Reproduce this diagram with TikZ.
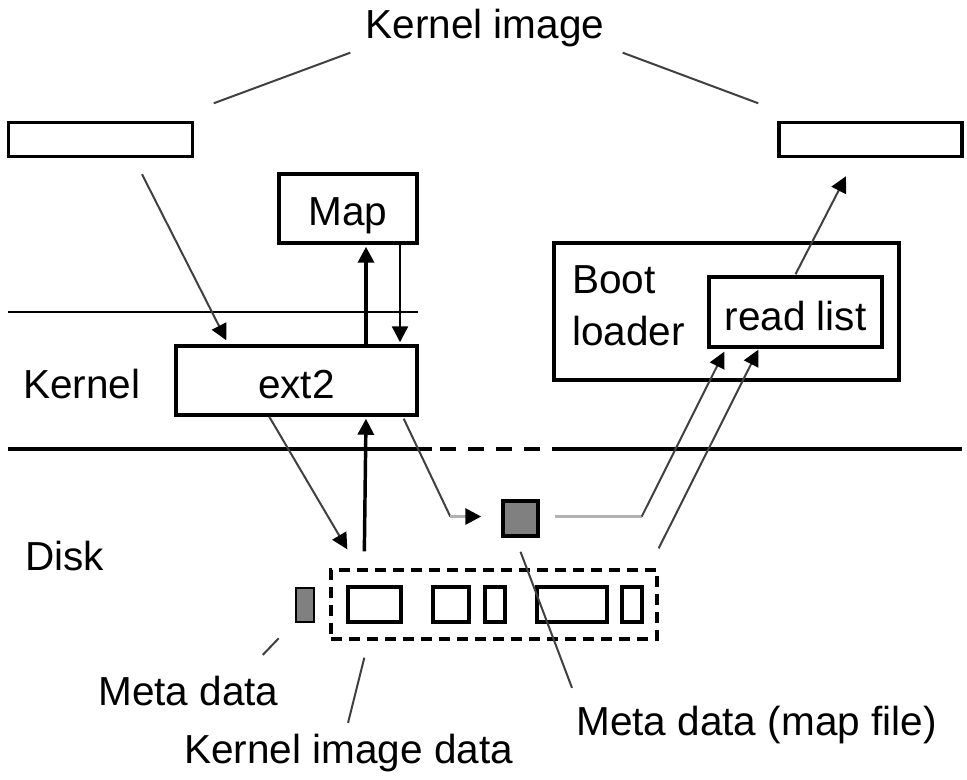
\documentclass[tikz,border=0pt]{standalone}
\usepackage{fontspec}
\setmainfont{Liberation Sans}
\usetikzlibrary{arrows.meta,calc}
\begin{document}
\begin{tikzpicture}[x=0.75pt,y=-0.75pt,
  every node/.style={font=\fontsize{30.4}{36}\selectfont},
  box/.style={draw,line width=2.6pt,inner sep=0pt,fill=white},
  lbl/.style={inner sep=0pt},
  graybox/.style={box,fill=black!50},
  tip/.style={-{Triangle[length=12pt,width=12pt,color=black]}},
  thinln/.style={draw=black!75,line width=1.5pt},
  thinarr/.style={thinln,tip},
  thickarr/.style={draw=black,line width=2.6pt,tip},
  downarr/.style={draw=black,line width=1.7pt,tip},
  grayln/.style={draw=black!30,line width=2.3pt},
  layer/.style={draw=black,line width=1.8pt},
  layerb/.style={draw=black,line width=2.6pt}
]
\useasboundingbox (0,0) rectangle (967,779);

% boxes
\node[box,minimum width=138pt,minimum height=25.5pt] (kimgL) at (100.5,139.5) {};
\node[box,minimum width=137.25pt,minimum height=25.5pt] (kimgR) at (870.5,139.5) {};
\node[box,minimum width=103.5pt,minimum height=51.75pt,text height=24.75pt,text depth=0pt] (map) at (348,208.5) {Map};
\node[box,minimum width=180.75pt,minimum height=51.75pt,text height=26.25pt,text depth=0pt] (ext2) at (296.5,380.5) {ext2};
\node[box,minimum width=258.75pt,minimum height=102.75pt] (boot) at (726.5,311.5) {};
\node[lbl,anchor=base west] (bootA) at (572,293) {Boot};
\node[lbl,anchor=base west] (bootB) at (572,345) {loader};
\node[box,minimum width=129.75pt,minimum height=52.5pt,text height=27pt,text depth=0pt] (readlist) at (795.5,312) {read list};

\node[graybox,minimum width=26.25pt,minimum height=26.25pt] (metasq) at (520.5,518.5) {};
\node[graybox,line width=2pt,minimum width=13.5pt,minimum height=25.5pt] (metasmall) at (305,605) {};
\node[draw,line width=2.5pt,dash pattern=on 8.5pt off 5pt,inner sep=0pt,minimum width=244.5pt,minimum height=51.75pt] (dbox) at (494,604.5) {};
\node[box,minimum width=39.75pt,minimum height=26.25pt] (r1) at (374.5,604.5) {};
\node[box,minimum width=27pt,minimum height=26.25pt] (r2) at (451,604.5) {};
\node[box,minimum width=15pt,minimum height=26.25pt] (r3) at (495,604.5) {};
\node[box,minimum width=52.5pt,minimum height=26.25pt] (r4) at (572,604.5) {};
\node[box,minimum width=15pt,minimum height=26.25pt] (r5) at (632,604.5) {};

% texts
\node[lbl,anchor=base] (kimg) at (485,38) {Kernel image};
\node[lbl,anchor=base west] (kernel) at (23,398) {Kernel};
\node[lbl,anchor=base west] (disk) at (25,570) {Disk};
\node[lbl,anchor=base west] (mdlabel) at (98,705) {Meta data};
\node[lbl,anchor=base west] (kidlabel) at (184,763) {Kernel image data};
\node[lbl,anchor=base west] (mflabel) at (576,735) {Meta data (map file)};

% layer lines
\draw[layer] (8,312) -- (418,312);
\draw[layerb] (8,449) -- (432,449);
\draw[layerb,dash pattern=on 12pt off 9pt] (440,449) -- (553,449);
\draw[layerb] (553,449) -- (962,449);

% label lines
\draw[thinln] ($(kimg.south west)+(-15,6)$) -- ($(kimgL.north east)+(19.5,-17.5)$);
\draw[thinln] ($(kimg.south east)+(18,6)$) -- ($(kimgR.north west)+(-19,-17.5)$);
\draw[thinln] ($(metasmall.south west)+(-16,15)$) -- ($(mdlabel.north east)+(-16,-20.5)$);
\draw[thinln] ($(dbox.south west)+(35,17)$) -- ($(kidlabel.north west)+(164,-10.5)$);
\draw[thinln] ($(metasq.south)+(0,14)$) -- ($(mflabel.north west)+(-4,-17.5)$);

% connectors
\draw[thinarr] ($(kimgL.south)+(41.5,16)$) -- ($(ext2.north west)+(52,-4)$);
\draw[thickarr] ($(ext2.north)+(69.5,0)$) -- ($(map.south)+(18,2)$);
\draw[downarr] ($(map.south)+(52,0)$) -- ($(ext2.north)+(103.5,-2)$);
\draw[thinarr] ($(ext2.south west)+(95,0)$) -- ($(dbox.north west)+(18,-19)$);
\draw[thickarr] ($(dbox.north west)+(35,-17)$) -- ($(ext2.south)+(69.5,2)$);

\coordinate (b1) at ($(metasq.west)+(-51,-2)$);
\draw[thinln] ($(ext2.south east)+(-15,2)$) -- (b1);
\draw[grayln,tip] (b1) -- ($(metasq.west)+(-20,-2)$);

\coordinate (b2) at ($(metasq.east)+(102,-2)$);
\draw[grayln] ($(metasq.east)+(15,-2)$) -- (b2);
\draw[thinarr] (b2) -- ($(readlist.south west)+(17,3)$);

\draw[thinarr] ($(dbox.north east)+(0,-20)$) -- ($(readlist.south west)+(51,1)$);
\draw[thinarr] ($(readlist.north)+(0,-1)$) -- ($(kimgR.south)+(-24.5,18)$);
\end{tikzpicture}
\end{document}
